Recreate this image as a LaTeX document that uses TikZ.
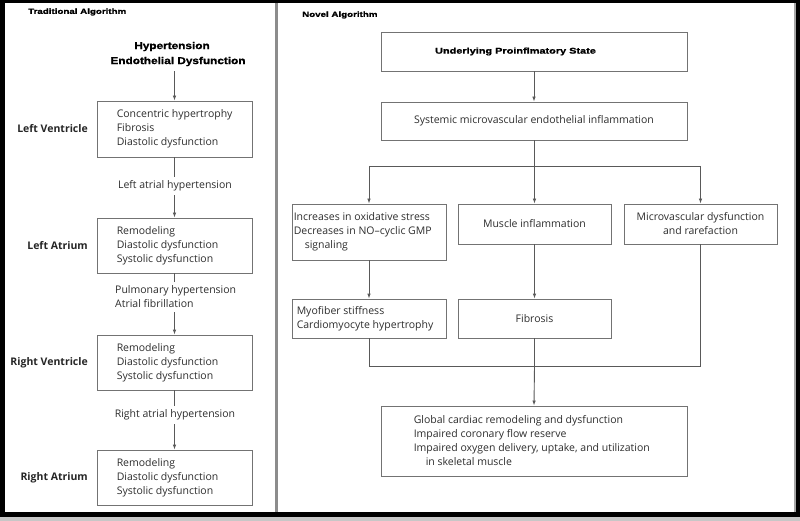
\documentclass[tikz,border=0pt]{standalone}
\usepackage{fontspec}
\setmainfont{Open Sans}
\newfontfamily\hdr{Liberation Sans}[FakeStretch=1.3, BoldFeatures={FakeBold=1.2}]
\newfontfamily\hdrb{Liberation Sans}[FakeStretch=1.18, BoldFeatures={FakeBold=1.2}]
\usetikzlibrary{arrows.meta}
\tikzset{
  box/.style={draw=black!55, line width=0.9pt, inner sep=0pt, fill=white},
  txt/.style={font=\fontsize{10.5}{14}\selectfont, text=black!82, inner sep=0pt},
  ln/.style={draw=black!65, line width=0.9pt},
  arr/.style={draw=black!65, line width=0.9pt, -{Latex[length=5pt,width=3.6pt]}},
  side/.style={font=\fontsize{10.5}{12}\selectfont\bfseries, text=black!85, anchor=east, inner sep=0pt},
  hd/.style={font=\hdr\bfseries\fontsize{7.5}{8}\selectfont, anchor=west, inner sep=0pt},
  lbl/.style={txt, inner ysep=4pt},
}
\begin{document}
\begin{tikzpicture}[x=1pt,y=-1pt]
\useasboundingbox (0,0) rectangle (800,521);
% frame
\fill[black] (0,0) rectangle (800,521);
\fill[black!22] (0,517) rectangle (800,521);
\fill[white] (5,3) rectangle (795,512);
\fill[black!35] (794,3) rectangle (796,512);
\fill[black!45] (274.5,3) rectangle (277.5,512);

% ---------- Traditional ----------
\node[hd] (ta) at (28,12) {Traditional Algorithm};
\node[font=\hdrb\bfseries\fontsize{10}{15}\selectfont, align=center, inner sep=5pt] (ht) at (178,54) {Hypertension\hspace*{12pt}\\Endothelial Dysfunction};

\node[box, minimum width=155pt, minimum height=56pt] (lv) at (174.5,129) {};
\node[txt, align=left, anchor=west] (lvt) at ([xshift=20pt]lv.west) {Concentric hypertrophy\\Fibrosis\\Diastolic dysfunction};
\node[side] (lvs) at (88,129) {Left Ventricle};

\node[box, minimum width=155pt, minimum height=55pt] (la) at (174.5,245.5) {};
\node[txt, align=left, anchor=west] (lat) at ([xshift=20pt]la.west) {Remodeling\\Diastolic dysfunction\\Systolic dysfunction};
\node[side] (las) at (88,245.5) {Left Atrium};

\node[box, minimum width=155pt, minimum height=55pt] (rv) at (174.5,362.5) {};
\node[txt, align=left, anchor=west] (rvt) at ([xshift=20pt]rv.west) {Remodeling\\Diastolic dysfunction\\Systolic dysfunction};
\node[side] (rvs) at (88,362.5) {Right Ventricle};

\node[box, minimum width=155pt, minimum height=55pt] (ra) at (174.5,477.5) {};
\node[txt, align=left, anchor=west] (rat) at ([xshift=20pt]ra.west) {Remodeling\\Diastolic dysfunction\\Systolic dysfunction};
\node[side] (ras) at (88,477.5) {Right Atrium};

\node[lbl] (l1) at (175,186) {Left atrial hypertension};
\node[lbl, align=left, anchor=west] (l2) at (115,297) {Pulmonary hypertension\\Atrial fibrillation};
\node[lbl] (l3) at (175,415) {Right atrial hypertension};

\draw[arr] (lv.north |- ht.south) -- (lv.north);
\draw[ln] (lv.south) -- (lv.south |- l1.north);
\draw[arr] (lv.south |- l1.south) -- (la.north);
\draw[ln] (la.south) -- (la.south |- l2.north);
\draw[arr] (la.south |- l2.south) -- (rv.north);
\draw[ln] (rv.south) -- (rv.south |- l3.north);
\draw[arr] (rv.south |- l3.south) -- (ra.north);

% ---------- Novel ----------
\node[hd] (na) at (302,15) {Novel Algorithm};

\node[box, minimum width=306pt, minimum height=39pt] (p) at (534,51.5) {};
\node[font=\hdr\bfseries\fontsize{8.4}{9}\selectfont, inner sep=0pt] (pt) at (515.5,51.5) {Underlying Proinflmatory State};
\node[box, minimum width=306pt, minimum height=38pt, txt] (s) at (534,121) {Systemic microvascular endothelial inflammation};

\node[box, minimum width=154pt, minimum height=56pt] (b1) at (369,232) {};
\node[txt, align=left, anchor=west] (b1t) at ([xshift=2pt]b1.west) {Increases in oxidative stress\\Decreases in NO--cyclic GMP\\\hspace*{11pt}signaling};
\node[box, minimum width=153pt, minimum height=40pt, txt] (b2) at (534.5,224) {Muscle inflammation};
\node[box, minimum width=153pt, minimum height=40pt, txt, align=center] (b3) at (700.5,224) {Microvascular dysfunction\\and rarefaction};

\node[box, minimum width=154pt, minimum height=39pt] (b4) at (369,318.5) {};
\node[txt, align=left, anchor=west] (b4t) at ([xshift=5pt]b4.west) {Myofiber stiffness\\Cardiomyocyte hypertrophy};
\node[box, minimum width=153pt, minimum height=39pt, txt] (b5) at (534.5,318.5) {Fibrosis};

\node[box, minimum width=306pt, minimum height=70pt] (b6) at (534,441) {};
\node[txt, align=left, anchor=west] (b6t) at ([xshift=33pt]b6.west) {Global cardiac remodeling and dysfunction\\Impaired coronary flow reserve\\Impaired oxygen delivery, uptake, and utilization\\\hspace*{12pt}in skeletal muscle};

\coordinate (j1) at (534,166);
\coordinate (j2) at (534.5,366);

\draw[arr] (p) -- (s);
\draw[ln] (s.south) -- (j1);
\draw[ln] (b1.north |- j1) -- (b3.north |- j1);
\draw[arr] (b1.north |- j1) -- (b1.north);
\draw[arr] (b2.north |- j1) -- (b2.north);
\draw[arr] (b3.north |- j1) -- (b3.north);
\draw[arr] (b1) -- (b4);
\draw[arr] (b2) -- (b5);
\draw[ln] (b4.south) -- (b4.south |- j2) -- (b3.south |- j2) -- (b3.south);
\draw[ln] (b5.south) -- (j2);
\draw[arr] (j2) -- (b6.north);
\end{tikzpicture}
\end{document}
